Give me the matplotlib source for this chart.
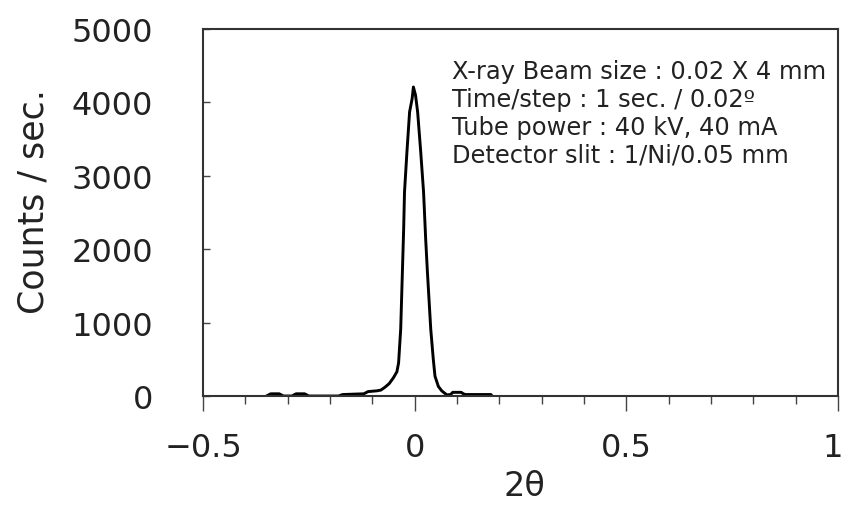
import matplotlib
matplotlib.use("Agg")
import matplotlib.pyplot as plt
from matplotlib.ticker import MultipleLocator

two_theta = [-0.35, -0.34, -0.32, -0.31, -0.29, -0.28, -0.26, -0.25, -0.18, -0.17,
             -0.12, -0.11, -0.09, -0.08, -0.07, -0.06, -0.05, -0.042, -0.038, -0.033,
             -0.026, -0.024, -0.018, -0.012, -0.006, -0.003, 0.002, 0.007, 0.014,
             0.021, 0.026, 0.030, 0.038, 0.044, 0.048, 0.056, 0.064, 0.076, 0.085,
             0.09, 0.11, 0.115, 0.12, 0.18, 0.183]
counts = [0, 30, 30, 0, 0, 30, 30, 0, 0, 20,
          30, 60, 70, 80, 120, 170, 250, 330, 450, 910,
          2275, 2780, 3350, 3870, 4050, 4210, 4100, 3870, 3350,
          2780, 2140, 1700, 910, 500, 270, 130, 70, 15, 20,
          50, 50, 30, 20, 20, 0]

info = ["X-ray Beam size : 0.02 X 4 mm",
        "Time/step : 1 sec. / 0.02\u00ba",
        "Tube power : 40 kV, 40 mA",
        "Detector slit : 1/Ni/0.05 mm"]

plt.rcParams['font.family'] = ['DejaVu Sans']

def fmt_x(v, p):
    s = ("\u2212" if v < 0 else "") + ("%g" % abs(v))
    if v >= 1:
        s += " "
    return s

fig = plt.figure(figsize=(8.45, 5.06), dpi=100)
ax = fig.add_axes([203/845, 1-397/506, (838-203)/845, (397-30)/506])
ax.plot(two_theta, counts, color='black', lw=2.1)
ax.set_xlim(-0.5, 1.0)
ax.set_ylim(0, 5000)
ax.xaxis.set_major_locator(MultipleLocator(0.5))
ax.xaxis.set_minor_locator(MultipleLocator(0.1))
ax.yaxis.set_major_locator(MultipleLocator(1000))
ax.xaxis.set_major_formatter(matplotlib.ticker.FuncFormatter(fmt_x))
ax.tick_params(axis='x', which='major', direction='out', length=11, width=1, labelsize=23, pad=15, color='#444444', labelcolor='#222222')
ax.tick_params(axis='x', which='minor', direction='out', length=6, width=1, color='#444444')
ax.tick_params(axis='y', which='major', direction='in', length=5, width=1, labelsize=23, pad=36, color='#444444', labelcolor='#222222')
for s in ax.spines.values():
    s.set_color('#333333')
    s.set_linewidth(1.5)
ax.set_ylabel("Counts / sec.", fontsize=25, color='#222222', va='center')
ax.yaxis.set_label_coords(-(203-34)/635, (397-202)/367)
ax.set_xlabel("2\u03b8", fontsize=24, color='#222222')
ax.xaxis.set_label_coords((524-203)/635, -(486-397)/367)
ax.xaxis.label.set_va('center')
ax.text((452-203)/635, (397-60)/367, "\n".join(info), transform=ax.transAxes, fontsize=17.4,
        va='top', ha='left', linespacing=1.21, color='#222222')
fig.savefig("out.png", dpi=100)
